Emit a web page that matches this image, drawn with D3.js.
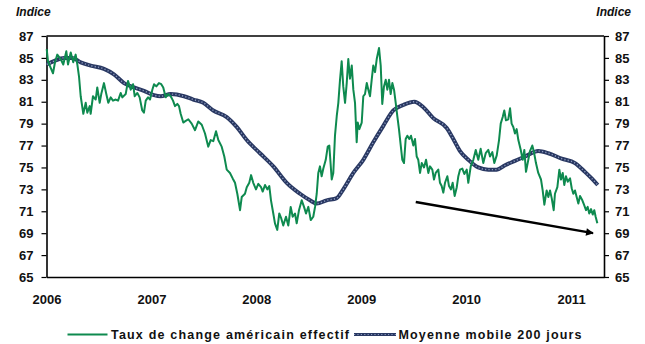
<!DOCTYPE html>
<html>
<head>
<meta charset="utf-8">
<script src="https://cdn.jsdelivr.net/npm/d3@7"></script>
<style>
  html, body { margin: 0; padding: 0; background: #fff; }
  svg { display: block; font-family: "Liberation Sans", Arial, sans-serif; }
</style>
</head>
<body>
<svg id="chart" width="645" height="344"></svg>
<script>
// Year labels along the time axis and the index ticks on both sides
const yearTicks = [2006, 2007, 2008, 2009, 2010, 2011];
const indexTicks = [65, 67, 69, 71, 73, 75, 77, 79, 81, 83, 85, 87];

// Effective US dollar exchange rate (decimal year, index level)
const rateT = [2006.002,2006.014,2006.040,2006.062,2006.081,2006.103,2006.135,2006.160,2006.189,2006.205,2006.231,2006.255,2006.278,2006.294,2006.310,2006.326,2006.351,2006.374,2006.389,2006.412,2006.421,2006.443,2006.469,2006.484,2006.507,2006.522,2006.548,2006.570,2006.589,2006.612,2006.634,2006.660,2006.682,2006.707,2006.723,2006.755,2006.777,2006.803,2006.825,2006.841,2006.866,2006.888,2006.913,2006.929,2006.946,2006.968,2006.987,2007.009,2007.025,2007.047,2007.072,2007.094,2007.113,2007.136,2007.158,2007.184,2007.206,2007.225,2007.247,2007.263,2007.279,2007.304,2007.320,2007.352,2007.384,2007.416,2007.447,2007.480,2007.511,2007.542,2007.565,2007.590,2007.616,2007.638,2007.670,2007.695,2007.718,2007.749,2007.775,2007.797,2007.819,2007.845,2007.861,2007.892,2007.909,2007.933,2007.950,2007.971,2007.997,2008.019,2008.045,2008.061,2008.083,2008.105,2008.124,2008.140,2008.162,2008.178,2008.200,2008.219,2008.236,2008.257,2008.283,2008.305,2008.328,2008.347,2008.369,2008.385,2008.407,2008.433,2008.455,2008.474,2008.496,2008.519,2008.543,2008.560,2008.576,2008.591,2008.607,2008.623,2008.639,2008.662,2008.681,2008.696,2008.719,2008.734,2008.750,2008.767,2008.782,2008.798,2008.814,2008.829,2008.846,2008.862,2008.877,2008.893,2008.910,2008.925,2008.941,2008.957,2008.967,2008.982,2009.005,2009.020,2009.036,2009.053,2009.068,2009.084,2009.100,2009.115,2009.132,2009.148,2009.170,2009.186,2009.201,2009.217,2009.234,2009.249,2009.265,2009.281,2009.297,2009.313,2009.329,2009.344,2009.360,2009.377,2009.392,2009.408,2009.424,2009.440,2009.459,2009.475,2009.497,2009.513,2009.529,2009.544,2009.561,2009.577,2009.599,2009.618,2009.640,2009.656,2009.678,2009.694,2009.710,2009.735,2009.751,2009.767,2009.783,2009.799,2009.821,2009.837,2009.856,2009.872,2009.891,2009.911,2009.926,2009.942,2009.964,2009.983,2010.006,2010.021,2010.044,2010.069,2010.092,2010.116,2010.139,2010.164,2010.187,2010.212,2010.228,2010.250,2010.269,2010.292,2010.314,2010.330,2010.349,2010.364,2010.380,2010.402,2010.419,2010.434,2010.450,2010.466,2010.482,2010.498,2010.521,2010.540,2010.555,2010.571,2010.587,2010.609,2010.631,2010.647,2010.666,2010.688,2010.714,2010.730,2010.746,2010.768,2010.784,2010.800,2010.816,2010.835,2010.847,2010.870,2010.889,2010.905,2010.921,2010.936,2010.952,2010.969,2010.991,2011.007,2011.022,2011.038,2011.054,2011.070,2011.086,2011.108,2011.124,2011.143,2011.159,2011.174,2011.191,2011.207,2011.222,2011.235,2011.251];
const rateV = [85.8,84.7,84.1,83.6,84.6,85.3,84.9,84.4,85.6,84.4,85.5,84.6,85.3,84.4,83.3,81.5,79.9,80.9,80.0,80.6,79.9,81.5,81.2,82.3,80.9,81.7,82.7,81.7,80.9,81.4,81.1,81.2,81.1,81.8,81.4,81.7,82.9,82.1,82.6,81.5,81.8,81.4,80.2,80.0,81.1,81.4,81.2,82.1,82.6,82.4,82.7,82.6,82.3,81.4,81.7,81.5,81.1,80.6,80.8,80.6,79.9,79.1,79.2,79.4,79.0,78.4,79.2,78.9,78.1,76.9,77.5,77.4,78.3,77.5,76.9,76.0,74.8,74.5,74.0,73.6,72.6,71.1,72.3,72.6,73.2,73.6,74.3,73.6,73.0,73.5,73.2,72.8,73.4,73.0,73.3,72.0,70.8,69.9,69.3,70.8,70.4,69.7,70.5,69.7,71.4,70.5,70.8,69.9,71.1,72.0,71.4,70.8,71.4,70.2,70.5,71.4,72.6,74.5,75.1,74.2,74.9,75.7,76.9,77.0,73.9,74.5,77.9,79.7,80.9,83.0,84.7,82.4,80.9,82.7,84.9,83.1,84.3,82.1,80.9,77.3,79.1,78.5,79.1,81.5,81.7,82.7,82.1,81.5,83.0,84.3,83.7,84.9,85.9,84.3,80.8,82.4,83.0,82.1,83.0,81.7,82.7,82.1,80.9,79.7,78.5,77.0,75.7,75.4,77.6,77.9,77.6,77.9,77.0,77.6,76.0,75.7,74.5,75.4,75.0,75.7,74.5,75.1,74.8,73.9,74.5,74.8,73.6,73.3,72.7,73.6,74.2,73.3,73.0,73.6,72.4,73.2,74.2,74.8,74.9,74.4,74.8,73.6,75.1,75.7,76.6,75.7,76.7,75.4,76.3,76.6,76.0,76.4,75.4,76.1,77.5,79.0,79.6,80.2,79.3,79.4,80.4,79.0,78.7,78.1,78.5,77.5,76.6,75.7,76.6,74.6,75.4,76.5,77.0,76.4,75.4,74.5,73.9,72.9,71.6,72.9,72.3,72.9,72.2,71.1,72.6,73.2,74.8,73.9,74.5,73.4,74.2,73.7,74.0,73.1,72.6,72.9,72.3,71.7,72.4,72.0,71.6,71.1,71.4,70.8,71.2,70.7,71.1,70.5,69.9];

// 200-day moving average (decimal year, index level)
const avgT = [2006.002,2006.071,2006.167,2006.246,2006.326,2006.421,2006.548,2006.643,2006.739,2006.834,2006.929,2007.025,2007.089,2007.184,2007.311,2007.399,2007.495,2007.590,2007.718,2007.813,2007.909,2008.035,2008.162,2008.290,2008.417,2008.512,2008.576,2008.671,2008.767,2008.829,2008.925,2009.020,2009.115,2009.211,2009.306,2009.401,2009.506,2009.592,2009.687,2009.815,2009.878,2009.942,2010.021,2010.116,2010.212,2010.292,2010.371,2010.466,2010.562,2010.688,2010.784,2010.911,2011.038,2011.133,2011.197,2011.255];
const avgV = [84.4,84.7,85.0,85.0,84.6,84.3,84.0,83.5,82.7,82.3,82.0,81.6,81.5,81.7,81.5,81.2,80.9,80.2,79.6,78.7,77.5,76.3,75.1,73.6,72.6,72.0,71.7,72.0,72.2,73.0,74.5,75.7,77.3,78.8,80.2,80.7,81.0,80.5,79.5,78.6,77.6,76.5,75.7,75.0,74.8,74.8,75.2,75.6,76.0,76.5,76.3,75.8,75.4,74.6,74.0,73.4];

// Trend annotation: start and end as (decimal year, index level)
const trendFrom = [2009.52, 71.85];
const trendTo = [2011.21, 69.0];

const seriesNames = ["Taux de change américain effectif", "Moyenne mobile 200 jours"];
const axisTitle = "Indice";

const GREEN = "#0e8a4f";
const NAVY = "#293862";
const BEAD = "#8e9cc0";

const svg = d3.select("#chart");
const plot = { left: 46.5, right: 604, top: 36, bottom: 277 };

const x = d3.scaleLinear().domain([2006, 2011.3146]).range([plot.left, plot.right]);
const y = d3.scaleLinear().domain([65, 87]).range([plot.bottom, plot.top]);

const fontTick = "bold 13px 'Liberation Sans', Arial, sans-serif";

// Frame top edge
svg.append("line")
  .attr("x1", plot.left).attr("x2", plot.right)
  .attr("y1", plot.top).attr("y2", plot.top)
  .attr("stroke", "#000").attr("stroke-width", 1.3);

// Left axis
const gl = svg.append("g").attr("transform", `translate(${plot.left},0)`)
  .call(d3.axisLeft(y).tickValues(indexTicks).tickSize(5).tickSizeOuter(0).tickPadding(8).tickFormat(d3.format("d")));
// Right axis
const gr = svg.append("g").attr("transform", `translate(${plot.right},0)`)
  .call(d3.axisRight(y).tickValues(indexTicks).tickSize(5).tickSizeOuter(0).tickPadding(6).tickFormat(d3.format("d")));
// Bottom axis (labels only, no tick marks)
const gb = svg.append("g").attr("transform", `translate(0,${plot.bottom})`)
  .call(d3.axisBottom(x).tickValues(yearTicks).tickSize(0).tickSizeOuter(0).tickPadding(18).tickFormat(d3.format("d")));

[gl, gr, gb].forEach(g => {
  g.select(".domain").attr("stroke", "#000").attr("stroke-width", 1.6);
  g.selectAll(".tick line").attr("stroke", "#000").attr("stroke-width", 1.2);
  g.selectAll(".tick text").style("font", fontTick).attr("fill", "#111");
});

// Axis titles
svg.append("text").attr("x", 16).attr("y", 16)
  .style("font", "italic bold 12px 'Liberation Sans', Arial, sans-serif").attr("fill", "#111")
  .text(axisTitle);
svg.append("text").attr("x", 631).attr("y", 16).attr("text-anchor", "end")
  .style("font", "italic bold 12px 'Liberation Sans', Arial, sans-serif").attr("fill", "#111")
  .text(axisTitle);

const rateData = rateT.map((t, i) => [t, rateV[i]]);
const avgData = avgT.map((t, i) => [t, avgV[i]]);

const rateLine = d3.line().x(d => x(d[0])).y(d => y(d[1]));
const avgLine = d3.line().x(d => x(d[0])).y(d => y(d[1])).curve(d3.curveMonotoneX);

// Moving average: dark stroke with a beaded lighter core
svg.append("path").datum(avgData).attr("d", avgLine)
  .attr("fill", "none").attr("stroke", NAVY).attr("stroke-width", 4);
svg.append("path").datum(avgData).attr("d", avgLine)
  .attr("fill", "none").attr("stroke", BEAD).attr("stroke-width", 1.4)
  .attr("stroke-dasharray", "1.2,2.2");

// Exchange rate
svg.append("path").datum(rateData).attr("d", rateLine)
  .attr("fill", "none").attr("stroke", GREEN).attr("stroke-width", 2)
  .attr("stroke-linejoin", "round");

// Trend arrow
svg.append("defs").append("marker")
  .attr("id", "arrowHead").attr("viewBox", "0 0 10 10")
  .attr("refX", 9).attr("refY", 5)
  .attr("markerWidth", 4).attr("markerHeight", 3.2)
  .attr("markerUnits", "strokeWidth")
  .attr("orient", "auto")
  .append("path").attr("d", "M0,0 L10,5 L0,10 z").attr("fill", "#000");
svg.append("line")
  .attr("x1", x(trendFrom[0])).attr("y1", y(trendFrom[1]))
  .attr("x2", x(trendTo[0])).attr("y2", y(trendTo[1]))
  .attr("stroke", "#000").attr("stroke-width", 2.4)
  .attr("marker-end", "url(#arrowHead)");

// Legend
const legendFont = "bold 12.5px 'Liberation Sans', Arial, sans-serif";
const lg = svg.append("g");
lg.append("line").attr("x1", 67.5).attr("x2", 107.5).attr("y1", 334.5).attr("y2", 334.5)
  .attr("stroke", GREEN).attr("stroke-width", 2);
lg.append("text").attr("x", 111).attr("y", 338.5)
  .style("font", legendFont).attr("fill", "#111")
  .attr("textLength", 238).attr("lengthAdjust", "spacing")
  .text(seriesNames[0]);
lg.append("line").attr("x1", 354).attr("x2", 396).attr("y1", 334.5).attr("y2", 334.5)
  .attr("stroke", NAVY).attr("stroke-width", 3);
lg.append("line").attr("x1", 354).attr("x2", 396).attr("y1", 334.5).attr("y2", 334.5)
  .attr("stroke", BEAD).attr("stroke-width", 1).attr("stroke-dasharray", "1.2,2.2");
lg.append("text").attr("x", 398.5).attr("y", 338.5)
  .style("font", legendFont).attr("fill", "#111")
  .attr("textLength", 183).attr("lengthAdjust", "spacing")
  .text(seriesNames[1]);
</script>
</body>
</html>
